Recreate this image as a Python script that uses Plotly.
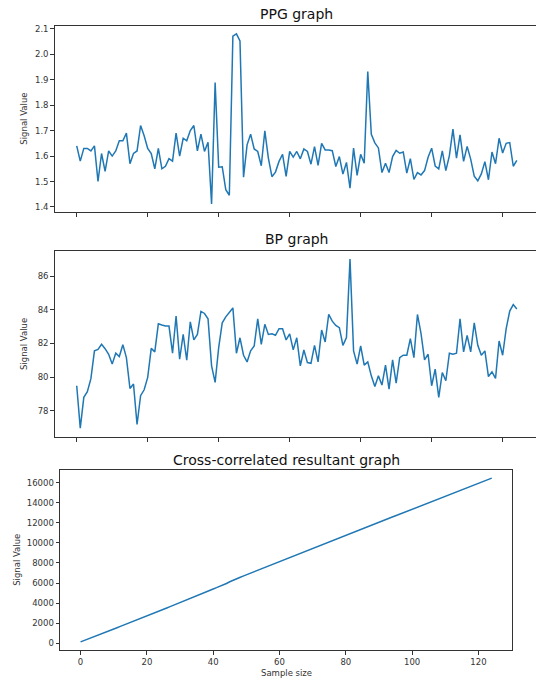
import plotly.graph_objects as go

# Sample index shared by all three panels
samples = list(range(125))

# PPG signal
ppg = [1.64, 1.58, 1.63, 1.63, 1.62, 1.64, 1.50, 1.61, 1.54, 1.62,
       1.60, 1.62, 1.66, 1.66, 1.69, 1.57, 1.61, 1.62, 1.72, 1.68,
       1.63, 1.61, 1.55, 1.63, 1.55, 1.56, 1.59, 1.58, 1.69, 1.60,
       1.67, 1.66, 1.70, 1.72, 1.62, 1.686, 1.618, 1.654, 1.412, 1.889,
       1.556, 1.558, 1.468, 1.446, 2.071, 2.080, 2.052, 1.517, 1.644, 1.686,
       1.628, 1.618, 1.562, 1.699, 1.592, 1.519, 1.537, 1.579, 1.607, 1.520,
       1.618, 1.596, 1.618, 1.589, 1.628, 1.618, 1.568, 1.637, 1.563, 1.650,
       1.624, 1.624, 1.621, 1.559, 1.598, 1.529, 1.575, 1.474, 1.631, 1.524,
       1.607, 1.572, 1.932, 1.685, 1.652, 1.632, 1.535, 1.572, 1.535, 1.598,
       1.622, 1.611, 1.616, 1.533, 1.590, 1.508, 1.535, 1.526, 1.543, 1.595,
       1.631, 1.561, 1.550, 1.620, 1.543, 1.602, 1.706, 1.592, 1.683, 1.579,
       1.638, 1.588, 1.521, 1.503, 1.530, 1.578, 1.507, 1.616, 1.570, 1.670,
       1.612, 1.650, 1.653, 1.560, 1.583]

# Blood pressure signal
bp = [79.48, 76.95, 78.79, 79.13, 79.90, 81.56, 81.65, 81.95, 81.69, 81.36,
      80.77, 81.42, 81.22, 81.93, 81.16, 79.32, 79.58, 77.17, 78.89, 79.24,
      79.98, 81.71, 81.50, 83.17, 83.10, 83.04, 83.04, 81.42, 83.63, 81.06,
      82.54, 81.00, 83.29, 82.21, 82.54, 83.91, 83.79, 83.47, 80.67, 79.68,
      81.75, 83.23, 83.59, 83.83, 84.12, 81.42, 82.34, 81.30, 80.90, 81.56,
      81.85, 83.47, 81.95, 83.14, 82.54, 82.58, 82.49, 82.88, 82.88, 82.21,
      82.57, 81.62, 82.34, 80.67, 81.61, 80.86, 80.82, 81.89, 80.90, 82.80,
      82.09, 83.73, 83.33, 83.08, 82.94, 81.89, 82.35, 87.03, 81.56, 80.77,
      81.85, 80.71, 80.90, 80.07, 79.44, 80.07, 79.52, 80.71, 79.28, 81.02,
      79.64, 81.16, 81.30, 81.30, 82.29, 81.16, 83.73, 82.60, 81.02, 81.36,
      79.48, 80.47, 78.79, 80.27, 79.78, 81.42, 81.36, 81.42, 83.47, 81.50,
      82.48, 81.50, 83.23, 81.89, 81.30, 81.56, 80.03, 80.31, 79.92, 82.15,
      81.30, 82.88, 83.93, 84.32, 84.06]

# Cross-correlated resultant
xcorr = [130, 252, 380, 509, 639, 772, 895, 1027, 1152, 1284,
         1413, 1545, 1680, 1816, 1953, 2078, 2206, 2331, 2467, 2600,
         2730, 2862, 2988, 3124, 3253, 3382, 3514, 3643, 3784, 3914,
         4052, 4186, 4328, 4469, 4603, 4744, 4880, 5018, 5132, 5282,
         5410, 5540, 5662, 5784, 5958, 6127, 6296, 6420, 6553, 6690,
         6823, 6958, 7086, 7228, 7359, 7485, 7611, 7742, 7876, 8001,
         8134, 8264, 8398, 8526, 8659, 8790, 8917, 9051, 9177, 9314,
         9447, 9583, 9718, 9848, 9980, 10105, 10235, 10363, 10496, 10619,
         10751, 10878, 11034, 11169, 11300, 11431, 11553, 11680, 11802, 11931,
         12060, 12191, 12322, 12447, 12578, 12700, 12829, 12955, 13080, 13210,
         13339, 13465, 13587, 13717, 13840, 13971, 14109, 14239, 14380, 14508,
         14644, 14773, 14900, 15023, 15147, 15276, 15397, 15526, 15652, 15789,
         15920, 16057, 16196, 16327, 16460]

titles = ["PPG graph", "BP graph", "Cross-correlated resultant graph"]
y_label = "Signal Value"
x_label = "Sample size"

ppg_ticks = [1.4, 1.5, 1.6, 1.7, 1.8, 1.9, 2.0, 2.1]
bp_ticks = [78, 80, 82, 84, 86]
xcorr_ticks = [0, 2000, 4000, 6000, 8000, 10000, 12000, 14000, 16000]
sample_ticks = [0, 20, 40, 60, 80, 100, 120]

W, H = 536, 680
LINE = "#1f77b4"
SPINE = "#333333"
TICKFONT = dict(family="DejaVu Sans", size=8.5, color="#333333")


def fx(px):
    return px / W


def fy(py):
    return 1 - py / H


fig = go.Figure()
fig.add_trace(go.Scatter(x=samples, y=ppg, mode="lines",
                         line=dict(color=LINE, width=1.5), xaxis="x", yaxis="y"))
fig.add_trace(go.Scatter(x=samples, y=bp, mode="lines",
                         line=dict(color=LINE, width=1.5), xaxis="x2", yaxis="y2"))
fig.add_trace(go.Scatter(x=samples, y=xcorr, mode="lines",
                         line=dict(color=LINE, width=1.5), xaxis="x3", yaxis="y3"))

axis_common = dict(showgrid=False, zeroline=False, showline=True, linecolor=SPINE,
                   linewidth=1, ticks="outside", ticklen=3.5, tickwidth=1,
                   tickcolor=SPINE, tickfont=TICKFONT)

fig.update_layout(
    width=W, height=H,
    margin=dict(l=0, r=0, t=0, b=0),
    paper_bgcolor="white", plot_bgcolor="white",
    showlegend=False,
    xaxis=dict(axis_common, domain=[fx(54.7), 1.0], range=[-6.2, 129.4],
               tickvals=sample_ticks, showticklabels=False, mirror=True, anchor="y"),
    yaxis=dict(axis_common, domain=[fy(210.7), fy(24)], range=[1.380, 2.111],
               tickvals=ppg_ticks, ticktext=[f"{v:.1f}" for v in ppg_ticks],
               anchor="x"),
    xaxis2=dict(axis_common, domain=[fx(54.7), 1.0], range=[-6.2, 129.4],
                tickvals=sample_ticks, showticklabels=False, mirror=True, anchor="y2"),
    yaxis2=dict(axis_common, domain=[fy(436.7), fy(249.3)], range=[76.4, 87.54],
                tickvals=bp_ticks, ticktext=[str(v) for v in bp_ticks], anchor="x2"),
    xaxis3=dict(axis_common, domain=[fx(60), fx(512.3)], range=[-6.2, 130.2],
                tickvals=sample_ticks, ticktext=[str(v) for v in sample_ticks],
                mirror=True, anchor="y3"),
    yaxis3=dict(axis_common, domain=[fy(650), fy(469.3)], range=[-686, 17276],
                tickvals=xcorr_ticks, ticktext=[str(v) for v in xcorr_ticks],
                mirror=True, anchor="x3"),
)

title_font = dict(family="DejaVu Sans", size=14, color="#111111")
label_font = dict(family="DejaVu Sans", size=8.5, color="#333333")

annotations = [
    dict(text=titles[0], x=fx(296.8), y=fy(12), xref="paper", yref="paper",
         showarrow=False, font=title_font, xanchor="center", yanchor="middle"),
    dict(text=titles[1], x=fx(296.8), y=fy(238), xref="paper", yref="paper",
         showarrow=False, font=title_font, xanchor="center", yanchor="middle"),
    dict(text=titles[2], x=fx(286.2), y=fy(459), xref="paper", yref="paper",
         showarrow=False, font=title_font, xanchor="center", yanchor="middle"),
    dict(text=y_label, x=fx(24), y=fy(117), xref="paper", yref="paper",
         showarrow=False, font=label_font, textangle=-90,
         xanchor="center", yanchor="middle"),
    dict(text=y_label, x=fx(24), y=fy(343), xref="paper", yref="paper",
         showarrow=False, font=label_font, textangle=-90,
         xanchor="center", yanchor="middle"),
    dict(text=y_label, x=fx(17.5), y=fy(560), xref="paper", yref="paper",
         showarrow=False, font=label_font, textangle=-90,
         xanchor="center", yanchor="middle"),
    dict(text=x_label, x=fx(286.2), y=fy(673), xref="paper", yref="paper",
         showarrow=False, font=label_font, xanchor="center", yanchor="middle"),
]
fig.update_layout(annotations=annotations)

fig.write_html("out.html")
